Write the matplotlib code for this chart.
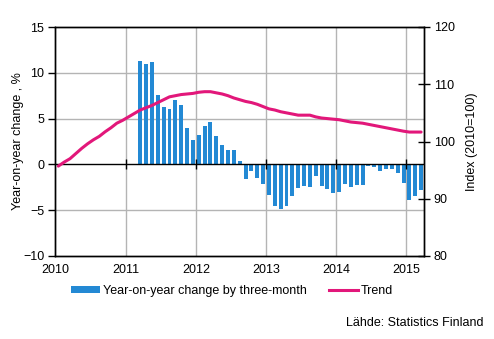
import matplotlib
matplotlib.use("Agg")
import matplotlib.pyplot as plt
import numpy as np
from matplotlib.patches import Patch
from matplotlib.lines import Line2D

plt.rcParams['font.family'] = ['Liberation Sans', 'DejaVu Sans']

# Year-on-year change by three-month (%), monthly, Mar 2011 - Mar 2015
bar_start = (2011, 3)
yoy_change = [11.27, 10.95, 11.16, 7.56, 6.25, 6.04, 7.02, 6.47, 3.96, 2.65,
              3.2, 4.18, 4.62, 3.09, 2.11, 1.56, 1.56, 0.36, -1.6, -0.73,
              -1.49, -2.15, -3.35, -4.55, -4.87, -4.55, -3.45, -2.58, -2.36, -2.47,
              -1.27, -2.36, -2.69, -3.13, -3.02, -2.15, -2.47, -2.25, -2.25, -0.18,
              -0.29, -0.73, -0.51, -0.51, -0.95, -2.04, -3.89, -3.45, -2.8]

# Trend index (2010=100), monthly, Jan 2010 - Mar 2015
trend_start = (2010, 1)
trend_index = [95.7, 96.4, 97.0, 97.9, 98.8, 99.6, 100.3, 100.9, 101.7, 102.4,
               103.2, 103.7, 104.3, 104.9, 105.5, 105.9, 106.3, 106.8, 107.3, 107.8,
               108.0, 108.2, 108.3, 108.4, 108.6, 108.7, 108.7, 108.5, 108.3, 108.0,
               107.6, 107.3, 107.0, 106.8, 106.5, 106.1, 105.7, 105.5, 105.2, 105.0,
               104.8, 104.6, 104.6, 104.6, 104.3, 104.1, 104.0, 103.9, 103.8, 103.6,
               103.4, 103.3, 103.2, 103.0, 102.8, 102.6, 102.4, 102.2, 102.0, 101.8,
               101.65, 101.65, 101.65]

year_ticks = [2010, 2011, 2012, 2013, 2014, 2015]
left_ticks = [-10, -5, 0, 5, 10, 15]
right_ticks = [80, 90, 100, 110, 120]

bar_label = "Year-on-year change by three-month"
trend_label = "Trend"
left_ylabel = "Year-on-year change , %"
right_ylabel = "Index (2010=100)"
source_text = "Lähde: Statistics Finland"

BLUE = "#2389d4"
PINK = "#e2177a"
GRID = "#b4b4b4"


def month_pos(start, n):
    y0, m0 = start
    idx = np.arange(n)
    return y0 + (m0 - 1 + idx + 0.5) / 12.0


fig = plt.figure(figsize=(4.94, 3.39), dpi=100)
ax = fig.add_axes([55.4 / 494, 1 - 256 / 339, (424 - 55.4) / 494, (256 - 27) / 339])

xb = month_pos(bar_start, len(yoy_change))
ax.bar(xb, yoy_change, width=0.68 / 12, color=BLUE, zorder=3)

ax.set_xlim(2010, 2015.25)
ax.set_ylim(-10, 15)
ax.set_yticks(left_ticks)
ax.set_xticks(year_ticks)
ax.set_xticklabels([str(y) for y in year_ticks])

for y in [5, 10, -5]:
    ax.axhline(y, color=GRID, lw=1, zorder=1)
for x in year_ticks[1:]:
    ax.axvline(x, color=GRID, lw=1, zorder=1)
ax.axhline(0, color="black", lw=1, zorder=4)
ax.plot(year_ticks[1:], [0] * (len(year_ticks) - 1), linestyle="none", marker="|",
        color="black", markersize=7, markeredgewidth=1, zorder=4)

for s in ax.spines.values():
    s.set_color("black")
    s.set_linewidth(1)

ax.tick_params(axis="x", length=0, pad=6, labelsize=9)
ax.tick_params(axis="y", direction="out", length=5, width=1, labelsize=9, pad=3)
ax.set_ylabel(left_ylabel, fontsize=9)
ax.yaxis.set_label_coords(-0.085, 0.5)

ax2 = ax.twinx()
xt = month_pos(trend_start, len(trend_index))
ax2.plot(xt, trend_index, color=PINK, lw=2.2, zorder=5, solid_capstyle="round")
ax2.set_ylim(80, 120)
ax2.set_yticks(right_ticks)
ax2.tick_params(axis="y", direction="inout", length=8, width=1, labelsize=9, pad=3)
ax2.set_ylabel(right_ylabel, fontsize=9, labelpad=8)
for s in ax2.spines.values():
    s.set_color("black")
    s.set_linewidth(1)

handles = [Patch(facecolor=BLUE, edgecolor="none"),
           Line2D([0], [0], color=PINK, lw=2.2)]
fig.legend(handles, [bar_label, trend_label], loc="center", bbox_to_anchor=(232 / 494, 1 - 291 / 339),
           ncol=2, frameon=False, fontsize=9, handlelength=2.3, handletextpad=0.2,
           columnspacing=1.8, handleheight=0.5)

fig.text(483 / 494, 1 - 323 / 339, source_text, ha="right", va="center", fontsize=9)

fig.savefig("out.png", dpi=100)
